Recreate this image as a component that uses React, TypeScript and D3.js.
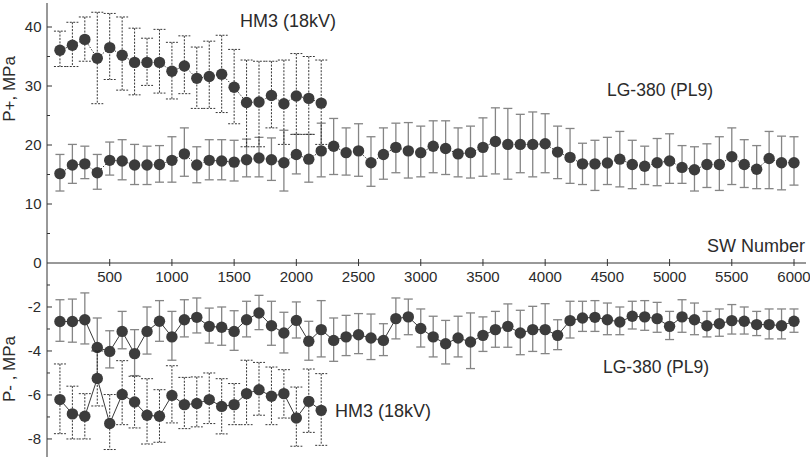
import React from 'react';
import * as d3 from 'd3';

// SW numbers (x categories)
const swLG = [100, 200, 300, 400, 500, 600, 700, 800, 900, 1000, 1100, 1200, 1300, 1400, 1500, 1600, 1700, 1800, 1900, 2000,
  2100, 2200, 2300, 2400, 2500, 2600, 2700, 2800, 2900, 3000, 3100, 3200, 3300, 3400, 3500, 3600, 3700, 3800, 3900, 4000,
  4100, 4200, 4300, 4400, 4500, 4600, 4700, 4800, 4900, 5000, 5100, 5200, 5300, 5400, 5500, 5600, 5700, 5800, 5900, 6000];
const swHM3 = [100, 200, 300, 400, 500, 600, 700, 800, 900, 1000, 1100, 1200, 1300, 1400, 1500, 1600, 1700, 1800, 1900, 2000, 2100, 2200];

// P+ HM3 (18kV)
const hm3PlusMean = [36.05, 36.9, 37.9, 34.7, 36.5, 35.2, 34.0, 34.0, 34.0, 32.5, 33.4, 31.3, 31.6, 32.0, 29.8, 27.2, 27.3, 28.4, 27.0, 28.3, 27.9, 27.1];
const hm3PlusHi = [39.3, 40.8, 41.7, 42.5, 42.3, 41.7, 39.8, 38.1, 39.6, 37.4, 38.5, 36.6, 37.6, 38.6, 36.2, 34.4, 34.2, 34.2, 34.4, 35.5, 35.0, 34.4];
const hm3PlusLo = [33.3, 33.3, 34.2, 27.0, 31.1, 29.3, 28.5, 30.1, 28.8, 27.8, 28.7, 26.2, 26.2, 25.5, 23.6, 19.7, 19.7, 22.9, 20.1, 21.8, 21.8, 20.1];

// P+ LG-380 (PL9)
const lgPlusMean = [15.15, 16.6, 16.8, 15.3, 17.4, 17.3, 16.6, 16.6, 16.7, 17.4,
  18.5, 16.6, 17.4, 17.3, 17.1, 17.5, 17.8, 17.5, 17.0, 18.4,
  17.6, 19.0, 19.8, 18.7, 19.0, 17.0, 18.4, 19.6, 19.0, 18.7,
  19.8, 19.4, 18.5, 18.7, 19.6, 20.6, 20.1, 20.1, 20.1, 20.2,
  18.8, 17.9, 16.8, 16.8, 16.95, 17.6, 16.7, 16.4, 17.0, 17.3,
  16.2, 15.8, 16.7, 16.7, 18.0, 16.7, 15.9, 17.7, 17.0, 17.0];
const lgPlusHi = [18.4, 20.1, 19.8, 18.4, 20.5, 20.9, 20.1, 19.8, 19.9, 21.4,
  22.9, 19.7, 20.9, 20.9, 20.8, 21.0, 21.3, 21.2, 22.5, 21.8,
  21.8, 23.7, 24.5, 22.9, 23.6, 21.4, 22.9, 23.7, 23.8, 23.2,
  24.1, 24.1, 22.9, 23.2, 24.6, 26.3, 26.2, 25.2, 25.6, 25.3,
  23.2, 22.8, 20.3, 20.8, 21.3, 22.3, 20.8, 19.8, 21.1, 21.9,
  19.9, 19.7, 20.2, 21.4, 22.9, 20.9, 19.9, 22.3, 21.5, 21.4];
const lgPlusLo = [12.2, 13.5, 14.3, 12.5, 14.9, 14.1, 13.3, 13.3, 13.7, 13.7,
  14.7, 13.6, 14.1, 14.1, 13.9, 14.6, 14.6, 14.0, 12.2, 15.1,
  13.7, 14.6, 15.0, 14.9, 14.7, 13.0, 14.2, 15.3, 14.4, 14.6,
  15.3, 15.0, 14.6, 14.4, 14.7, 15.1, 14.2, 15.3, 14.6, 15.3,
  14.3, 13.5, 13.3, 12.3, 13.3, 12.9, 12.6, 13.3, 13.1, 13.5,
  13.5, 12.2, 12.8, 12.3, 13.3, 12.8, 12.6, 12.6, 12.4, 13.2];

// P- LG-380 (PL9)
const lgMinusMean = [-2.66, -2.66, -2.58, -3.84, -4.02, -3.11, -4.12, -3.11, -2.65, -3.36,
  -2.58, -2.47, -2.88, -2.92, -3.11, -2.58, -2.27, -2.85, -3.18, -2.61,
  -3.56, -3.03, -3.52, -3.36, -3.26, -3.41, -3.52, -2.53, -2.45, -2.98,
  -3.36, -3.67, -3.41, -3.59, -3.29, -3.03, -2.88, -3.18, -3.03, -3.03,
  -3.29, -2.62, -2.5, -2.47, -2.58, -2.68, -2.42, -2.45, -2.53, -2.88,
  -2.45, -2.58, -2.85, -2.76, -2.62, -2.65, -2.8, -2.8, -2.85, -2.65];
const lgMinusHi = [-1.67, -1.64, -1.36, -2.5, -3.08, -2.2, -3.03, -2.0, -1.71, -2.2,
  -1.67, -1.59, -2.05, -2.0, -2.17, -1.74, -1.47, -1.74, -2.24, -1.77,
  -2.65, -1.71, -2.5, -2.38, -2.3, -2.32, -2.76, -1.59, -1.64, -2.09,
  -2.42, -2.61, -2.42, -2.27, -2.45, -2.2, -1.86, -2.15, -1.97, -1.85,
  -2.58, -1.74, -1.74, -1.71, -1.82, -2.0, -1.74, -1.71, -1.79, -2.2,
  -1.67, -1.82, -2.2, -2.09, -1.89, -2.0, -2.2, -2.09, -2.09, -2.09];
const lgMinusLo = [-3.56, -3.6, -3.68, -5.1, -4.77, -3.9, -5.12, -4.14, -3.56, -4.42,
  -3.36, -3.18, -3.64, -3.74, -3.97, -3.36, -3.03, -3.74, -4.09, -3.41,
  -4.42, -4.27, -4.47, -4.21, -4.12, -4.39, -4.21, -3.45, -3.26, -3.82,
  -4.27, -4.59, -4.27, -4.8, -4.02, -3.83, -3.83, -4.17, -4.02, -4.12,
  -3.94, -3.41, -3.11, -3.11, -3.26, -3.26, -3.0, -3.06, -3.15, -3.48,
  -3.15, -3.26, -3.36, -3.33, -3.23, -3.23, -3.3, -3.45, -3.45, -3.15];

// P- HM3 (18kV)
const hm3MinusMean = [-6.21, -6.86, -6.97, -5.25, -7.3, -5.98, -6.32, -6.92, -6.97, -6.02, -6.44, -6.39, -6.21, -6.52, -6.44, -5.94, -5.76, -6.06, -5.94, -7.05, -6.29, -6.7];
const hm3MinusHi = [-4.59, -5.6, -5.94, -4.0, -5.98, -4.44, -5.15, -5.26, -5.76, -4.67, -5.2, -5.18, -5.0, -5.26, -5.48, -4.42, -4.52, -4.73, -4.85, -5.64, -4.82, -5.03];
const hm3MinusLo = [-7.76, -8.0, -8.0, -6.5, -8.48, -7.35, -7.5, -8.23, -8.15, -7.27, -7.53, -7.45, -7.3, -7.77, -7.35, -7.35, -6.92, -7.35, -7.05, -8.33, -7.7, -8.29];

// ticks
const xTicks = [500, 1000, 1500, 2000, 2500, 3000, 3500, 4000, 4500, 5000, 5500, 6000];
const yTopTicks = [0, 10, 20, 30, 40];
const yTopMinor = [5, 15, 25, 35];
const yBotTicks = [-2, -4, -6, -8];
const yBotMinor = [-1, -3, -5, -7];

const FONT = '"Liberation Sans", Arial, Helvetica, sans-serif';
const TXT = '#2b2b2b';
const AX = '#333';
const MARK = '#3c3c3c';

type Ser = { x: number[]; m: number[]; hi: number[]; lo: number[] };

function ErrBars({ s, x, y, dashed, capW }: { s: Ser; x: any; y: any; dashed: boolean; capW: number }) {
  const stroke = dashed ? '#1e1e1e' : '#858585';
  const dash = dashed ? '2 1.4' : undefined;
  const sw = dashed ? 0.9 : 1.3;
  return (
    <g stroke={stroke} strokeWidth={sw} strokeDasharray={dash} fill="none">
      {s.x.map((xv, i) => {
        const cx = x(xv);
        const y1 = y(s.hi[i]);
        const y2 = y(s.lo[i]);
        return (
          <g key={i}>
            <line x1={cx} x2={cx} y1={y1} y2={y2} />
            <line x1={cx - capW} x2={cx + capW} y1={y1} y2={y1} />
            <line x1={cx - capW} x2={cx + capW} y1={y2} y2={y2} />
          </g>
        );
      })}
    </g>
  );
}

function Series({ s, x, y, dashedErr, lineDash, capW }: { s: Ser; x: any; y: any; dashedErr: boolean; lineDash?: string; capW: number }) {
  const pts: [number, number][] = s.x.map((xv, i) => [x(xv), y(s.m[i])]);
  const path = d3.line()(pts) || '';
  return (
    <g>
      <ErrBars s={s} x={x} y={y} dashed={dashedErr} capW={capW} />
      <path d={path} fill="none" stroke="#3a3a3a" strokeWidth={1} strokeDasharray={lineDash} />
      {pts.map((p, i) => (
        <circle key={i} cx={p[0]} cy={p[1]} r={5.7} fill={MARK} />
      ))}
    </g>
  );
}

export default function App() {
  const x = d3.scaleLinear().domain([0, 6000]).range([47.5, 794]);
  const yTop = d3.scaleLinear().domain([0, 44]).range([263, 3.4]);
  const yBot = d3.scaleLinear().domain([0, -8.82]).range([263, 457]);
  const axisX = 47;

  const hm3Plus: Ser = { x: swHM3, m: hm3PlusMean, hi: hm3PlusHi, lo: hm3PlusLo };
  const lgPlus: Ser = { x: swLG, m: lgPlusMean, hi: lgPlusHi, lo: lgPlusLo };
  const lgMinus: Ser = { x: swLG, m: lgMinusMean, hi: lgMinusHi, lo: lgMinusLo };
  const hm3Minus: Ser = { x: swHM3, m: hm3MinusMean, hi: hm3MinusHi, lo: hm3MinusLo };

  return (
    <svg width={810} height={457} style={{ position: 'absolute', left: 0, top: 0, background: '#fff' }} fontFamily={FONT}>
      <rect x={0} y={0} width={810} height={457} fill="#fff" />
      {/* axes */}
      <g stroke={AX} strokeWidth={1} fill="none">
        <line x1={axisX} x2={axisX} y1={3} y2={457} />
        <line x1={axisX} x2={806} y1={263} y2={263} />
        {xTicks.map((t) => (
          <line key={t} x1={x(t)} x2={x(t)} y1={259} y2={266} />
        ))}
        {yTopTicks.filter((t) => t !== 0).map((t) => (
          <line key={t} x1={axisX} x2={axisX + 5} y1={yTop(t)} y2={yTop(t)} />
        ))}
        {yTopMinor.map((t) => (
          <line key={t} x1={axisX} x2={axisX + 3} y1={yTop(t)} y2={yTop(t)} />
        ))}
        {yBotTicks.map((t) => (
          <line key={t} x1={axisX} x2={axisX + 5} y1={yBot(t)} y2={yBot(t)} />
        ))}
        {yBotMinor.map((t) => (
          <line key={t} x1={axisX} x2={axisX + 3} y1={yBot(t)} y2={yBot(t)} />
        ))}
      </g>
      {/* tick labels */}
      <g fill={TXT} fontSize={15}>
        {xTicks.map((t) => (
          <text key={t} x={x(t)} y={281.5} textAnchor="middle">{t}</text>
        ))}
        {yTopTicks.map((t) => (
          <text key={t} x={41.5} y={yTop(t)} dy="0.36em" textAnchor="end">{t}</text>
        ))}
        {yBotTicks.map((t) => (
          <text key={t} x={41} y={yBot(t)} dy="0.36em" textAnchor="end">{t}</text>
        ))}
      </g>
      {/* axis titles */}
      <g fill={TXT} fontSize={18}>
        <text transform="translate(15,89) rotate(-90)" textAnchor="middle" fontSize={17}>P+, MPa</text>
        <text transform="translate(15,369) rotate(-90)" textAnchor="middle" fontSize={17}>P- , MPa</text>
        <text x={805} y={251.5} textAnchor="end">SW Number</text>
        <text x={240} y={26.7}>HM3 (18kV)</text>
        <text x={607} y={95.5} fontSize={17.5}>LG-380 (PL9)</text>
        <text x={603} y={373} fontSize={17.5}>LG-380 (PL9)</text>
        <text x={335} y={416.5}>HM3 (18kV)</text>
      </g>
      {/* series */}
      <Series s={lgPlus} x={x} y={yTop} dashedErr={false} lineDash="1.5 1.5" capW={4.5} />
      <Series s={hm3Plus} x={x} y={yTop} dashedErr={true} lineDash="1.5 1.5" capW={6} />
      <Series s={lgMinus} x={x} y={yBot} dashedErr={false} capW={4.5} />
      <Series s={hm3Minus} x={x} y={yBot} dashedErr={true} capW={6} />
    </svg>
  );
}
